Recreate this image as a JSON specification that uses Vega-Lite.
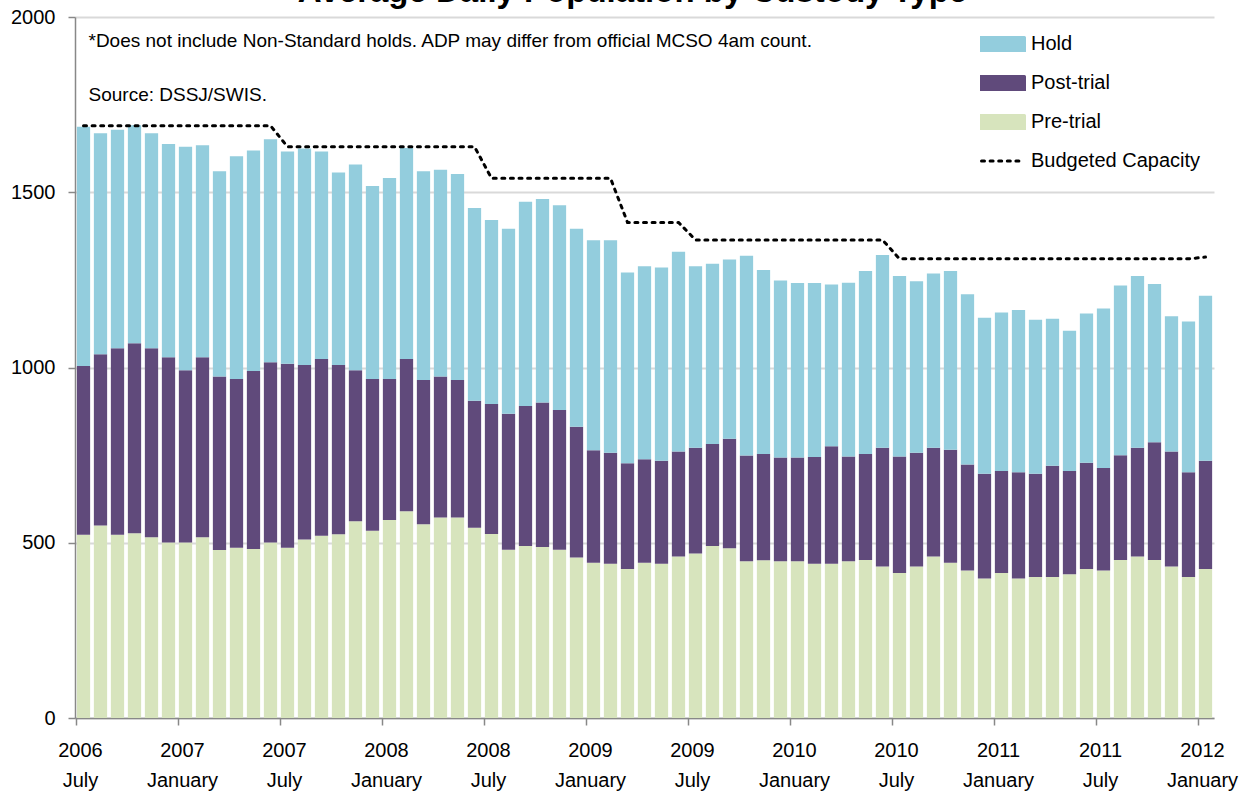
{
  "$schema": "https://vega.github.io/schema/vega-lite/v6.json",
  "autosize": {"type": "none"},
  "width": 1139,
  "height": 701,
  "padding": {"left": 75, "top": 17, "right": 36, "bottom": 81},
  "background": "white",
  "config": {
    "font": "Liberation Sans",
    "view": {"stroke": null}
  },
  "title": {
    "text": "Average Daily Population by Custody Type",
    "font": "Liberation Sans",
    "fontWeight": "bold",
    "fontSize": 33,
    "color": "black",
    "anchor": "middle",
    "frame": "group",
    "baseline": "bottom",
    "offset": -35,
    "dx": -12
  },
  "datasets": {
    "adp": [
      {"m": "2006-07", "Pre-trial": 523, "Post-trial": 481, "Hold": 683, "cap": 1690},
      {"m": "2006-08", "Pre-trial": 549, "Post-trial": 489, "Hold": 630, "cap": 1690},
      {"m": "2006-09", "Pre-trial": 523, "Post-trial": 532, "Hold": 623, "cap": 1690},
      {"m": "2006-10", "Pre-trial": 527, "Post-trial": 542, "Hold": 622, "cap": 1690},
      {"m": "2006-11", "Pre-trial": 516, "Post-trial": 539, "Hold": 613, "cap": 1690},
      {"m": "2006-12", "Pre-trial": 501, "Post-trial": 528, "Hold": 609, "cap": 1690},
      {"m": "2007-01", "Pre-trial": 501, "Post-trial": 491, "Hold": 638, "cap": 1690},
      {"m": "2007-02", "Pre-trial": 516, "Post-trial": 513, "Hold": 605, "cap": 1690},
      {"m": "2007-03", "Pre-trial": 479, "Post-trial": 495, "Hold": 586, "cap": 1690},
      {"m": "2007-04", "Pre-trial": 486, "Post-trial": 481, "Hold": 636, "cap": 1690},
      {"m": "2007-05", "Pre-trial": 482, "Post-trial": 508, "Hold": 629, "cap": 1690},
      {"m": "2007-06", "Pre-trial": 501, "Post-trial": 514, "Hold": 636, "cap": 1690},
      {"m": "2007-07", "Pre-trial": 486, "Post-trial": 525, "Hold": 605, "cap": 1630},
      {"m": "2007-08", "Pre-trial": 509, "Post-trial": 498, "Hold": 618, "cap": 1630},
      {"m": "2007-09", "Pre-trial": 520, "Post-trial": 504, "Hold": 592, "cap": 1630},
      {"m": "2007-10", "Pre-trial": 524, "Post-trial": 483, "Hold": 549, "cap": 1630},
      {"m": "2007-11", "Pre-trial": 561, "Post-trial": 431, "Hold": 587, "cap": 1630},
      {"m": "2007-12", "Pre-trial": 534, "Post-trial": 433, "Hold": 551, "cap": 1630},
      {"m": "2008-01", "Pre-trial": 565, "Post-trial": 402, "Hold": 574, "cap": 1630},
      {"m": "2008-02", "Pre-trial": 590, "Post-trial": 434, "Hold": 602, "cap": 1630},
      {"m": "2008-03", "Pre-trial": 553, "Post-trial": 411, "Hold": 596, "cap": 1630},
      {"m": "2008-04", "Pre-trial": 572, "Post-trial": 402, "Hold": 590, "cap": 1630},
      {"m": "2008-05", "Pre-trial": 572, "Post-trial": 392, "Hold": 588, "cap": 1630},
      {"m": "2008-06", "Pre-trial": 543, "Post-trial": 362, "Hold": 550, "cap": 1630},
      {"m": "2008-07", "Pre-trial": 525, "Post-trial": 371, "Hold": 525, "cap": 1540},
      {"m": "2008-08", "Pre-trial": 480, "Post-trial": 388, "Hold": 528, "cap": 1540},
      {"m": "2008-09", "Pre-trial": 491, "Post-trial": 399, "Hold": 583, "cap": 1540},
      {"m": "2008-10", "Pre-trial": 488, "Post-trial": 412, "Hold": 581, "cap": 1540},
      {"m": "2008-11", "Pre-trial": 480, "Post-trial": 399, "Hold": 584, "cap": 1540},
      {"m": "2008-12", "Pre-trial": 458, "Post-trial": 373, "Hold": 565, "cap": 1540},
      {"m": "2009-01", "Pre-trial": 443, "Post-trial": 321, "Hold": 599, "cap": 1540},
      {"m": "2009-02", "Pre-trial": 440, "Post-trial": 317, "Hold": 606, "cap": 1540},
      {"m": "2009-03", "Pre-trial": 425, "Post-trial": 302, "Hold": 544, "cap": 1414},
      {"m": "2009-04", "Pre-trial": 443, "Post-trial": 295, "Hold": 551, "cap": 1414},
      {"m": "2009-05", "Pre-trial": 440, "Post-trial": 294, "Hold": 551, "cap": 1414},
      {"m": "2009-06", "Pre-trial": 461, "Post-trial": 299, "Hold": 570, "cap": 1414},
      {"m": "2009-07", "Pre-trial": 469, "Post-trial": 302, "Hold": 518, "cap": 1364},
      {"m": "2009-08", "Pre-trial": 491, "Post-trial": 291, "Hold": 514, "cap": 1364},
      {"m": "2009-09", "Pre-trial": 484, "Post-trial": 313, "Hold": 511, "cap": 1364},
      {"m": "2009-10", "Pre-trial": 447, "Post-trial": 302, "Hold": 570, "cap": 1364},
      {"m": "2009-11", "Pre-trial": 450, "Post-trial": 303, "Hold": 525, "cap": 1364},
      {"m": "2009-12", "Pre-trial": 447, "Post-trial": 296, "Hold": 505, "cap": 1364},
      {"m": "2010-01", "Pre-trial": 447, "Post-trial": 296, "Hold": 498, "cap": 1364},
      {"m": "2010-02", "Pre-trial": 440, "Post-trial": 305, "Hold": 496, "cap": 1364},
      {"m": "2010-03", "Pre-trial": 440, "Post-trial": 335, "Hold": 462, "cap": 1364},
      {"m": "2010-04", "Pre-trial": 447, "Post-trial": 299, "Hold": 496, "cap": 1364},
      {"m": "2010-05", "Pre-trial": 451, "Post-trial": 302, "Hold": 522, "cap": 1364},
      {"m": "2010-06", "Pre-trial": 432, "Post-trial": 339, "Hold": 550, "cap": 1364},
      {"m": "2010-07", "Pre-trial": 414, "Post-trial": 332, "Hold": 515, "cap": 1310},
      {"m": "2010-08", "Pre-trial": 432, "Post-trial": 325, "Hold": 489, "cap": 1310},
      {"m": "2010-09", "Pre-trial": 461, "Post-trial": 310, "Hold": 497, "cap": 1310},
      {"m": "2010-10", "Pre-trial": 443, "Post-trial": 322, "Hold": 510, "cap": 1310},
      {"m": "2010-11", "Pre-trial": 421, "Post-trial": 302, "Hold": 486, "cap": 1310},
      {"m": "2010-12", "Pre-trial": 398, "Post-trial": 299, "Hold": 445, "cap": 1310},
      {"m": "2011-01", "Pre-trial": 414, "Post-trial": 291, "Hold": 452, "cap": 1310},
      {"m": "2011-02", "Pre-trial": 398, "Post-trial": 303, "Hold": 463, "cap": 1310},
      {"m": "2011-03", "Pre-trial": 402, "Post-trial": 295, "Hold": 439, "cap": 1310},
      {"m": "2011-04", "Pre-trial": 402, "Post-trial": 318, "Hold": 419, "cap": 1310},
      {"m": "2011-05", "Pre-trial": 410, "Post-trial": 295, "Hold": 400, "cap": 1310},
      {"m": "2011-06", "Pre-trial": 425, "Post-trial": 303, "Hold": 426, "cap": 1310},
      {"m": "2011-07", "Pre-trial": 421, "Post-trial": 292, "Hold": 455, "cap": 1310},
      {"m": "2011-08", "Pre-trial": 451, "Post-trial": 299, "Hold": 484, "cap": 1310},
      {"m": "2011-09", "Pre-trial": 461, "Post-trial": 310, "Hold": 490, "cap": 1310},
      {"m": "2011-10", "Pre-trial": 451, "Post-trial": 336, "Hold": 451, "cap": 1310},
      {"m": "2011-11", "Pre-trial": 432, "Post-trial": 328, "Hold": 386, "cap": 1310},
      {"m": "2011-12", "Pre-trial": 402, "Post-trial": 299, "Hold": 430, "cap": 1310},
      {"m": "2012-01", "Pre-trial": 425, "Post-trial": 309, "Hold": 471, "cap": 1315}
    ],
    "notes": [
      {"t": "*Does not include Non-Standard holds.  ADP may differ from official MCSO 4am count.", "m": "2006-07", "v": 1914},
      {"t": "Source: DSSJ/SWIS.", "m": "2006-07", "v": 1760}
    ]
  },
  "data": {"name": "adp"},
  "encoding": {
    "x": {
      "field": "m",
      "type": "ordinal",
      "sort": null,
      "scale": {"type": "band", "paddingInner": 0.22, "paddingOuter": 0.11},
      "axis": {
        "title": null,
        "values": ["2006-07", "2007-01", "2007-07", "2008-01", "2008-07", "2009-01", "2009-07", "2010-01", "2010-07", "2011-01", "2011-07", "2012-01"],
        "bandPosition": 0,
        "labelOffset": -3,
        "labelExpr": "[slice(datum.value, 0, 4), slice(datum.value, 5) == '01' ? 'January' : 'July']",
        "labelAngle": 0,
        "labelAlign": "center",
        "labelBaseline": "top",
        "labelFontSize": 20,
        "labelLineHeight": 30,
        "labelColor": "black",
        "labelPadding": 15,
        "labelOverlap": false,
        "tickSize": 7,
        "tickColor": "#888888",
        "tickWidth": 1.5,
        "domainColor": "#888888",
        "domainWidth": 1.5,
        "grid": false
      }
    }
  },
  "layer": [
    {
      "transform": [{"fold": ["Pre-trial", "Post-trial", "Hold"], "as": ["type", "value"]}],
      "mark": {"type": "bar"},
      "encoding": {
        "y": {
          "field": "value",
          "type": "quantitative",
          "stack": "zero",
          "scale": {"domain": [0, 2000], "nice": false},
          "axis": {
            "title": null,
            "values": [0, 500, 1000, 1500, 2000],
            "format": "d",
            "labelFontSize": 20,
            "labelColor": "black",
            "labelPadding": 13,
            "tickSize": 7,
            "tickColor": "#888888",
            "tickWidth": 1.5,
            "domainColor": "#888888",
            "domainWidth": 1.5,
            "grid": true,
            "gridColor": "#d9d9d9",
            "gridWidth": 2
          }
        },
        "color": {
          "field": "type",
          "type": "nominal",
          "scale": {
            "domain": ["Hold", "Post-trial", "Pre-trial", "Budgeted Capacity"],
            "range": ["#93cddd", "#604a7b", "#d7e4bd", "#000000"]
          },
          "legend": {
            "title": null,
            "orient": "none",
            "legendX": 905,
            "legendY": 4,
            "symbolType": "M-1,-0.3H1V0.3H-1Z",
            "symbolSize": 1849,
            "labelFontSize": 20,
            "labelLimit": 400,
            "labelColor": "black",
            "labelOffset": 5,
            "rowPadding": 3,
            "encode": {
              "symbols": {
                "update": {
                  "shape": {"signal": "datum.value === 'Budgeted Capacity' ? 'M-1,0H1' : 'M-1,-0.3H1V0.3H-1Z'"},
                  "fill": {"signal": "datum.value === 'Budgeted Capacity' ? 'transparent' : scale('color', datum.value)"},
                  "stroke": {"signal": "datum.value === 'Budgeted Capacity' ? '#000000' : 'transparent'"},
                  "strokeWidth": {"value": 3},
                  "strokeDash": {"signal": "datum.value === 'Budgeted Capacity' ? [3, 5.6] : [1, 0]"},
                  "strokeCap": {"value": "round"},
                  "opacity": {"value": 1}
                }
              }
            }
          }
        },
        "order": {"field": "type", "sort": "descending"}
      }
    },
    {
      "mark": {"type": "line", "strokeWidth": 3, "strokeDash": [3, 5.6], "strokeCap": "round"},
      "encoding": {
        "y": {"field": "cap", "type": "quantitative"},
        "color": {"datum": "Budgeted Capacity"}
      }
    },
    {
      "data": {"name": "notes"},
      "mark": {"type": "text", "align": "left", "baseline": "alphabetic", "fontSize": 19, "color": "black", "dx": 5},
      "encoding": {
        "x": {"field": "m", "type": "ordinal"},
        "y": {"field": "v", "type": "quantitative"},
        "text": {"field": "t"}
      }
    }
  ]
}
